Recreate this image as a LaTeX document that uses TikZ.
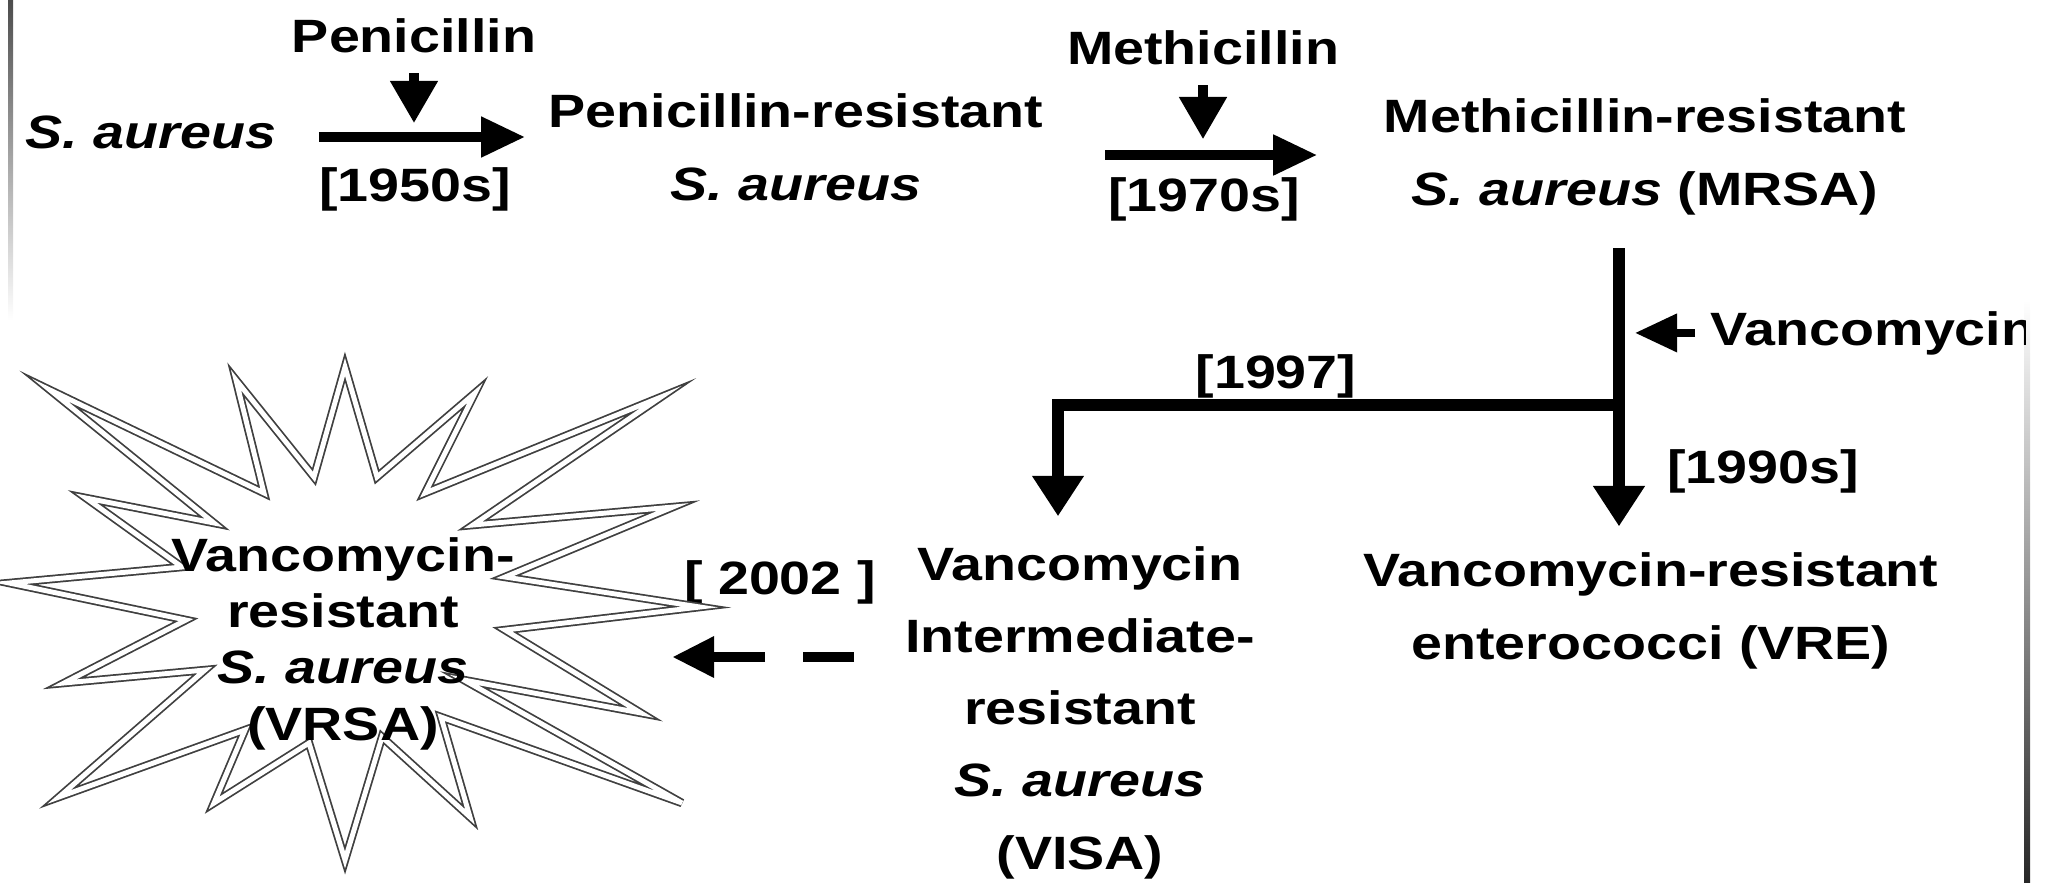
\documentclass[tikz,border=0pt]{standalone}
\usepackage{fontspec}
\setmainfont{Liberation Sans}[FakeStretch=1.19]
\usepackage{tikz}
\usetikzlibrary{positioning,calc,arrows.meta}

\begin{document}
\begin{tikzpicture}[>={Triangle}, txt/.style={font=\fontsize{13.3}{20.5}\selectfont\bfseries, align=center, inner sep=0pt, anchor=base}, fat/.style={line width=2.6pt, -{Triangle[length=12.5pt,width=11pt]}}, stem/.style={line width=3.2pt, -{Triangle[length=11.5pt,width=14pt]}}, drug/.style={line width=2.6pt, -{Triangle[length=12pt,width=13pt]}}, burst/.style={draw=black!75, line width=0.5pt, double=white, double distance=1.4pt}]

\useasboundingbox (0,0) rectangle (20.51,-8.82);

% scan edges
\shade[top color=black!70, bottom color=white] (0.08,0) rectangle (0.13,-3.2);
\shade[top color=white, bottom color=black!85] (20.24,-3.0) rectangle (20.30,-8.82);

% top row
\node[txt] (sa) at (1.51,-1.48) {\textit{S. aureus}};
\node[txt] (pen) at (4.14,-0.52) {Penicillin};
\node[txt] (y1950) at (4.15,-2.01) {[1950s]};
\node[txt] (prsa) at (7.96,-2.00) {Penicillin-resistant\\\textit{S. aureus}};
\node[txt] (meth) at (12.03,-0.64) {Methicillin};
\node[txt] (y1970) at (12.04,-2.11) {[1970s]};
\node[txt] (mrsa) at (16.45,-2.05) {Methicillin-resistant\\\textit{S. aureus} (MRSA)};

% vancomycin branch
\begin{scope}
\clip (0,0) rectangle (20.25,-8.82);
\node[txt, anchor=base west] (vanc) at (17.10,-3.45) {Vancomycin};
\end{scope}
\node[txt] (y1990) at (17.63,-4.83) {[1990s]};
\node[txt] (y1997) at (12.76,-3.88) {[1997]};
\node[txt] (vre) at (16.51,-6.59) {Vancomycin-resistant\\enterococci (VRE)};
\node[txt] (visa) at (10.80,-8.69) {Vancomycin\\Intermediate-\\resistant\\\textit{S. aureus}\\(VISA)};
\node[txt] (y2002) at (7.80,-5.94) {[ 2002 ]};

% VRSA burst
\draw[burst] (0.09,-5.83) -- (1.82,-5.67) -- (0.86,-4.98) -- (2.14,-5.23) -- (0.50,-3.90) -- (2.64,-4.93) -- (2.36,-3.80) -- (3.14,-4.77) -- (3.45,-3.67) -- (3.77,-4.77) -- (4.75,-3.93) -- (4.25,-4.93) -- (6.61,-3.97) -- (4.73,-5.25) -- (6.73,-5.07) -- (5.05,-5.77) -- (7.00,-6.07) -- (5.05,-6.30) -- (6.41,-7.13) -- (4.64,-6.80) -- (6.82,-8.03) -- (4.41,-7.17) -- (4.70,-8.17) -- (3.82,-7.37) -- (3.45,-8.60) -- (3.09,-7.43) -- (2.14,-8.03) -- (2.45,-7.30) -- (0.59,-7.97) -- (2.05,-6.70) -- (0.64,-6.83) -- (1.86,-6.20) -- cycle;
\node[txt, font=\fontsize{13.3}{16}\selectfont\bfseries] (vrsa) at (3.43,-7.40) {Vancomycin-\\resistant\\\textit{S. aureus}\\(VRSA)};

\coordinate (top) at (16.19,-2.48);
\coordinate (jn) at (16.19,-4.05);
\coordinate (bend) at (10.58,-4.05);
\coordinate (dashR) at (8.54,-6.57);
\coordinate (dashL) at (6.72,-6.57);

% connectors
\draw[drug, shorten <=0.2cm, shorten >=0.25cm] (pen.south) -- (pen.south |- sa.base);
\draw[fat, shorten <=0.42cm, shorten >=0.23cm] ([yshift=0.11cm]sa.base east) -- ([yshift=0.11cm]sa.base east -| prsa.west);
\draw[drug, shorten <=0.2cm] (meth.south) -- ++(0,-0.74);
\draw[fat, shorten <=0.61cm, shorten >=0.66cm] ([yshift=0.45cm]prsa.base east) -- ([yshift=0.45cm]prsa.base east -| mrsa.west);
\draw[stem, shorten >=0.26cm] (top) -- (jn) -- (vre.north -| jn);
\draw[stem, shorten >=0.30cm] (jn) -- (bend) -- (visa.north -| bend);
\draw[drug, line width=2.2pt, -{Triangle[length=12pt,width=10.5pt]}, shorten <=0.15cm, shorten >=0.16cm] (vanc.west) -- (vanc.west -| top);
\draw[line width=3pt, -{Triangle[length=12pt,width=11pt]}, dash pattern=on 0.51cm off 0.38cm on 3cm] (dashR) -- (dashL);
\end{tikzpicture}
\end{document}
